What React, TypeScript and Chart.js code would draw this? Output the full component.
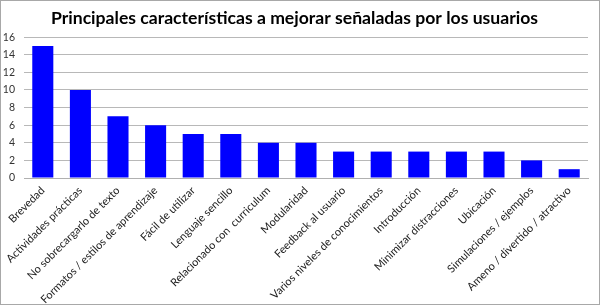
import React, { useEffect, useRef } from "react";
import { Chart, registerables } from "chart.js";

Chart.register(...registerables);

const categories = [
  "Brevedad",
  "Actividades prácticas",
  "No sobrecargarlo de texto",
  "Formatos / estilos de aprendizaje",
  "Fácil de utilizar",
  "Lenguaje sencillo",
  "Relacionado con  curriculum",
  "Modularidad",
  "Feedback al usuario",
  "Varios niveles de conocimientos",
  "Introducción",
  "Minimizar distracciones",
  "Ubicación",
  "Simulaciones / ejemplos",
  "Ameno / divertido / atractivo",
];

const counts = [15, 10, 7, 6, 5, 5, 4, 4, 3, 3, 3, 3, 3, 2, 1];

const yMin = 0;
const yMax = 16;
const yStep = 2;

const titleText = "Principales características a mejorar señaladas por los usuarios";

const W = 598;
const H = 303;

export default function App() {
  const ref = useRef<HTMLCanvasElement | null>(null);

  useEffect(() => {
    if (!ref.current) return;
    const chart = new Chart(ref.current, {
      type: "bar",
      data: {
        labels: categories,
        datasets: [
          {
            data: counts,
            backgroundColor: "#0000ff",
            borderWidth: 0,
            barPercentage: 0.56,
            categoryPercentage: 1,
          },
        ],
      },
      options: {
        responsive: false,
        animation: false,
        layout: { padding: { left: 0, right: 11, top: 0, bottom: 0 } },
        plugins: {
          legend: { display: false },
          tooltip: { enabled: false },
          title: {
            display: true,
            text: titleText,
            color: "#000000",
            font: { family: "Lato", size: 17.6, weight: "bold" },
            padding: { top: 7, bottom: 8 },
          },
        },
        scales: {
          x: {
            grid: { display: false, drawTicks: false },
            border: { display: true, color: "#b0b0b0", width: 1 },
            ticks: {
              autoSkip: false,
              maxRotation: 45,
              minRotation: 45,
              padding: 6,
              color: "#222222",
              font: { family: "Lato", size: 11 },
            },
            afterFit: (s: any) => {
              s.height = 126;
            },
          },
          y: {
            min: yMin,
            max: yMax,
            grid: { color: "#b8b8b8", drawTicks: false },
            border: { display: false },
            ticks: {
              stepSize: yStep,
              padding: 9,
              color: "#333333",
              font: { family: "Lato", size: 10.5 },
            },
            afterFit: (s: any) => {
              s.width = 23;
            },
          },
        },
      },
    });
    return () => chart.destroy();
  }, []);

  return (
    <div
      style={{
        position: "fixed",
        left: 0,
        top: 0,
        width: 600,
        height: 305,
        border: "1px solid #a8a8a8",
        boxSizing: "border-box",
        background: "#ffffff",
      }}
    >
      <canvas ref={ref} width={W} height={H} style={{ display: "block" }} />
    </div>
  );
}
